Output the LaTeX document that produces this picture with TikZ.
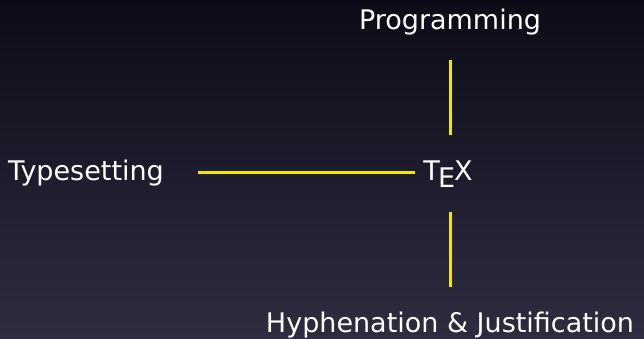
\documentclass[tikz,border=0pt]{standalone}
\usepackage{fontspec}
\setmainfont{DejaVu Sans}
\usepackage{xcolor}
\usetikzlibrary{positioning, calc}

\definecolor{skytop}{RGB}{12,12,24}
\definecolor{skybottom}{RGB}{47,44,64}
\definecolor{hilite}{RGB}{245,230,0}

% a looser TeX logo
\newcommand{\looseTeX}{T\kern-.06em\lower.5ex\hbox{E}\kern-.04em X}

\tikzset{
  word/.style={text=white, inner sep=0pt, font=\fontsize{27}{32}\selectfont},
  link/.style={draw=hilite, line width=3pt},
}

\begin{document}
\begin{tikzpicture}[x=1pt, y=-1pt]
% backdrop
\shade[top color=skytop, bottom color=skybottom] (0,0) rectangle (644,339);
\useasboundingbox (0,0) rectangle (644,339);

% the four words
\node[word, anchor=base] (tex) at (448,180) {\looseTeX};
\node[word, anchor=base] (prog) at (450,30) {Programming};
\node[word, anchor=base west] (typeset) at (8,180) {Typesetting};
\node[word, anchor=base] (hyph) at (450,332) {Hyphenation \& Justification};

% connectors (yshift is in page points, so minus goes down)
\draw[link] ([shift={(34,-8)}]typeset.base east) -- ([shift={(-8,-8)}]tex.base west);
\draw[link] ([yshift=-24]prog.south) -- ([yshift=25]tex.north -| prog.south);
\draw[link] ([yshift=-24]tex.south -| hyph.north) -- ([yshift=24]hyph.north);
\end{tikzpicture}
\end{document}
